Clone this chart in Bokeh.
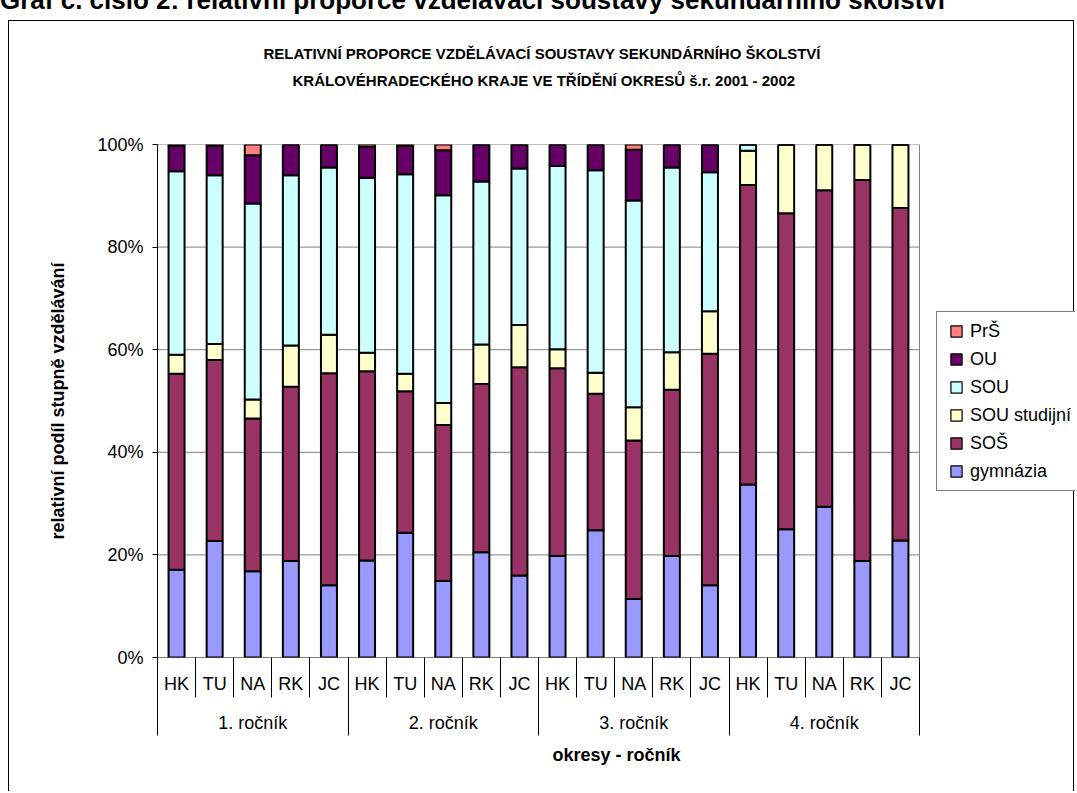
from bokeh.plotting import figure
from bokeh.models import (ColumnDataSource, FixedTicker, LinearAxis, Range1d, Legend, Title,
                          LegendItem, Div, CustomJSTickFormatter, PrintfTickFormatter)
from bokeh.layouts import column
from bokeh.embed import file_html
from bokeh.resources import INLINE

FONT = "Liberation Sans"

# ---- data -------------------------------------------------------------
districts = ["HK", "TU", "NA", "RK", "JC"]
years = ["1. ročník", "2. ročník", "3. ročník", "4. ročník"]
series = ["gymnázia", "SOŠ", "SOU studijní", "SOU", "OU", "PrŠ"]
colors = ["#9999FF", "#993366", "#FFFFCC", "#CCFFFF", "#660066", "#FF8080"]
y_ticks = [0, 20, 40, 60, 80, 100]

# shares in % ; order inside each year: HK, TU, NA, RK, JC
gymnazia = [17.1, 22.7, 16.8, 18.8, 14.1, 18.9, 24.3, 14.9, 20.5, 16.0,
            19.8, 24.8, 11.4, 19.8, 14.1, 33.7, 25.0, 29.4, 18.8, 22.8]
sos = [38.2, 35.3, 29.8, 34.0, 41.3, 36.9, 27.6, 30.4, 32.8, 40.6,
       36.6, 26.6, 30.9, 32.4, 45.1, 58.4, 61.6, 61.7, 74.3, 64.8]
sou_studijni = [3.7, 3.1, 3.7, 8.0, 7.5, 3.6, 3.4, 4.3, 7.7, 8.2,
                3.7, 4.1, 6.5, 7.3, 8.3, 6.7, 13.4, 8.9, 6.9, 12.4]
sou = [35.8, 32.9, 38.2, 33.2, 32.6, 34.1, 38.9, 40.5, 31.8, 30.5,
       35.7, 39.5, 40.3, 36.0, 27.1, 1.2, 0.0, 0.0, 0.0, 0.0]
ou = [4.9, 5.7, 9.4, 6.0, 4.5, 6.0, 5.5, 8.8, 7.2, 4.7,
      4.2, 5.0, 9.9, 4.5, 5.4, 0.0, 0.0, 0.0, 0.0, 0.0]
prs = [0.3, 0.3, 2.1, 0.0, 0.0, 0.5, 0.3, 1.1, 0.0, 0.0,
       0.0, 0.0, 1.0, 0.0, 0.0, 0.0, 0.0, 0.0, 0.0, 0.0]

title_lines = ["RELATIVNÍ PROPORCE VZDĚLÁVACÍ SOUSTAVY SEKUNDÁRNÍHO ŠKOLSTVÍ",
               "KRÁLOVÉHRADECKÉHO KRAJE VE TŘÍDĚNÍ OKRESŮ  š.r. 2001 - 2002"]
heading_text = "Graf č. číslo 2: relativní proporce vzdělávací soustavy sekundárního školství"
x_title = "okresy - ročník"
y_title = "relativní podíl stupně vzdělávání"

# ---- geometry (pixels) --------------------------------------------------
W, H = 1066, 771
LEFT, TOP = 148, 123
PLOT_W, PLOT_H = 762, 513          # plot area (bars) size
FRAME_W = W - LEFT                 # frame also holds the legend on the right

n = len(gymnazia)
x_end = n * FRAME_W / PLOT_W

keys = ["gym", "sos", "soust", "sou", "ou", "prs"]
source = ColumnDataSource(dict(x=[i + 0.5 for i in range(n)], gym=gymnazia, sos=sos,
                               soust=sou_studijni, sou=sou, ou=ou, prs=prs))

p = figure(width=W, height=H, x_range=Range1d(0, x_end), y_range=Range1d(0, 100),
           output_backend="svg", toolbar_location=None,
           x_axis_type=None, y_axis_type=None,
           min_border_left=LEFT, min_border_right=0, min_border_top=TOP,
           min_border_bottom=H - TOP - PLOT_H, margin=(0, 0, 0, 8),
           styles={"border-top": "1px solid black", "border-left": "1px solid black",
                   "border-right": "1px solid black"})
p.outline_line_color = None
p.xgrid.visible = False
p.ygrid.visible = False
p.background_fill_color = "white"
p.border_fill_color = "white"

# gridlines + plot-area border (only across the bar area)
gl = y_ticks[1:]
p.segment(x0=[0] * len(gl), x1=[n] * len(gl), y0=gl, y1=gl, line_color="#808080", line_width=1)
p.segment(x0=[n], x1=[n], y0=[0], y1=[100], line_color="#808080", line_width=1)

bars = p.vbar_stack(keys, x="x", width=0.42, source=source, fill_color=colors,
                    line_color="black", line_width=2)

# x axis line across the bar area
p.segment(x0=[0], x1=[n], y0=[0], y1=[0], line_color="black", line_width=1)

# ---- axes ---------------------------------------------------------------
yaxis = LinearAxis(ticker=FixedTicker(ticks=y_ticks), formatter=PrintfTickFormatter(format="%d%%"),
                   major_tick_out=5, major_tick_in=0, minor_tick_out=0, minor_tick_in=0,
                   major_label_standoff=9, axis_line_color="black", major_tick_line_color="black",
                   major_label_text_font=FONT, major_label_text_font_size="18px",
                   major_label_text_color="black",
                   axis_label=y_title, axis_label_text_font=FONT, axis_label_text_font_size="18px",
                   axis_label_text_font_style="bold", axis_label_text_color="black",
                   axis_label_standoff=26)
p.add_layout(yaxis, "left")

centers = [i + 0.5 for i in range(n)]
bounds = list(range(n + 1))
xaxis1 = LinearAxis(ticker=FixedTicker(ticks=centers, minor_ticks=bounds),
                    formatter=CustomJSTickFormatter(args=dict(names=districts),
                                                    code="return names[Math.floor(tick) % names.length];"),
                    major_tick_out=0, major_tick_in=0, minor_tick_out=40, minor_tick_in=0,
                    minor_tick_line_color="black", minor_tick_line_width=1,
                    axis_line_color=None, major_label_standoff=-24,
                    major_label_text_font=FONT, major_label_text_font_size="18px",
                    major_label_text_color="black")
p.add_layout(xaxis1, "below")

group_centers = [len(districts) * (g + 0.5) for g in range(len(years))]
group_bounds = [len(districts) * g for g in range(len(years) + 1)]
xaxis2 = LinearAxis(ticker=FixedTicker(ticks=group_centers, minor_ticks=group_bounds),
                    formatter=CustomJSTickFormatter(args=dict(names=years, k=len(districts)),
                                                    code="return names[Math.floor(tick / k)];"),
                    major_tick_out=0, major_tick_in=0, minor_tick_out=39, minor_tick_in=10,
                    minor_tick_line_color="black", minor_tick_line_width=1,
                    axis_line_color=None, major_label_standoff=-23,
                    major_label_text_font=FONT, major_label_text_font_size="18px",
                    major_label_text_color="black",
                    axis_label=x_title, axis_label_text_font=FONT, axis_label_text_font_size="18px",
                    axis_label_text_font_style="bold", axis_label_text_color="black",
                    axis_label_standoff=9)
p.add_layout(xaxis2, "below")

# ---- title (two lines, stacked in the top panel above a blank spacer) ---
spacer = Title(text=".", text_font_size="10px", standoff=44, text_color="white")
t2 = Title(text=title_lines[1], align="left", offset=135, standoff=4,
           text_font=FONT, text_font_style="bold", text_font_size="15px", text_color="black")
t1 = Title(text=title_lines[0], align="left", offset=106, standoff=12,
           text_font=FONT, text_font_style="bold", text_font_size="15px", text_color="black")
p.add_layout(spacer, "above")
p.add_layout(t2, "above")
p.add_layout(t1, "above")

# ---- legend -----------------------------------------------------------
items = []
for name, col in zip(series, colors):
    r = p.scatter(x=[-50], y=[-50], marker="square", fill_color=col, line_color="black",
                  line_width=1.2)
    items.append(LegendItem(label=name, renderers=[r]))
items = items[::-1]
legend = Legend(items=items, location=(779, 166), glyph_width=28, glyph_height=28,
                label_standoff=-5, padding=5, spacing=0, label_height=28,
                label_text_font=FONT, label_text_font_size="18px", label_text_color="black",
                border_line_color="black", border_line_width=1, background_fill_color="white",
                background_fill_alpha=1.0, margin=0)
p.add_layout(legend, "center")

heading = Div(text=('<div style="font-family:\'Liberation Sans\',Arial,sans-serif;font-weight:bold;'
                    'font-size:26px;line-height:26px;white-space:nowrap;position:relative;'
                    'top:-13px;left:0px;">' + heading_text + '</div>'),
              width=1076, height=20, margin=(0, 0, 0, 0), styles={"overflow": "hidden"})

layout = column(heading, p, spacing=0)
open("out.html", "w").write(file_html(layout, INLINE))
